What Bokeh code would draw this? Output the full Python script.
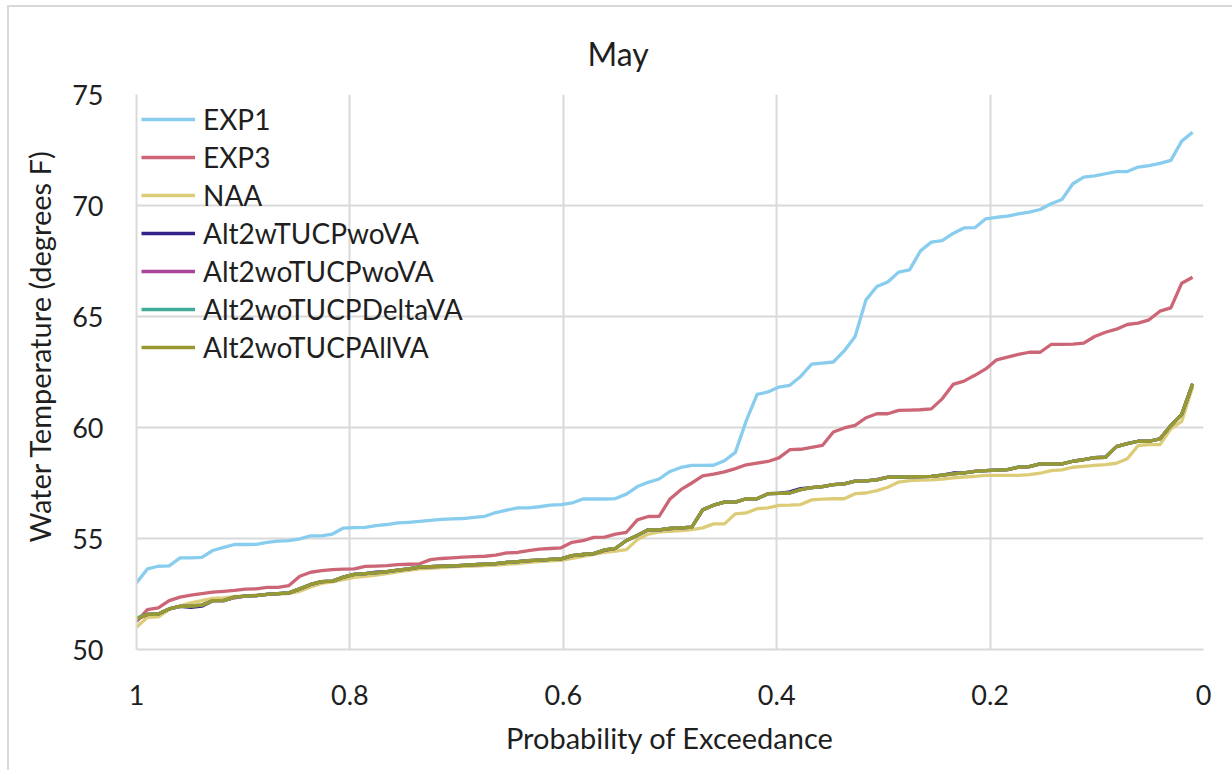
from bokeh.embed import file_html
from bokeh.models import CustomJSTickFormatter, FixedTicker, Range1d, Title
from bokeh.plotting import figure
from bokeh.resources import INLINE

# Sorted May water temperatures (degrees F), highest exceedance probability first
exp1 = [
    53.0, 53.63, 53.75, 53.77, 54.13, 54.13, 54.15, 54.46, 54.6, 54.73,
    54.73, 54.74, 54.83, 54.88, 54.9, 54.98, 55.12, 55.12, 55.2, 55.47,
    55.49, 55.5, 55.58, 55.63, 55.7, 55.73, 55.77, 55.82, 55.86, 55.88,
    55.9, 55.95, 56.0, 56.17, 56.28, 56.38, 56.38, 56.43, 56.5, 56.53,
    56.6, 56.78, 56.78, 56.78, 56.8, 57.0, 57.34, 57.53, 57.68, 58.02,
    58.2, 58.29, 58.29, 58.3, 58.5, 58.88, 60.3, 61.49, 61.6, 61.82,
    61.9, 62.3, 62.85, 62.9, 62.95, 63.45, 64.1, 65.75, 66.35, 66.55,
    67.0, 67.1, 67.95, 68.35, 68.42, 68.74, 68.99, 69.0, 69.4, 69.47,
    69.52, 69.62, 69.7, 69.82, 70.08, 70.27, 70.98, 71.28, 71.33, 71.43,
    71.53, 71.53, 71.73, 71.8, 71.9, 72.03, 72.9, 73.3,
]
exp3 = [
    51.25, 51.8, 51.87, 52.2, 52.36, 52.45, 52.52, 52.58, 52.62, 52.66,
    52.72, 52.73, 52.8, 52.8, 52.88, 53.3, 53.48, 53.55, 53.6, 53.62,
    53.63, 53.74, 53.76, 53.78, 53.82, 53.84, 53.86, 54.05, 54.1, 54.13,
    54.16, 54.18, 54.2, 54.25, 54.35, 54.37, 54.45, 54.52, 54.55, 54.58,
    54.83, 54.9, 55.05, 55.06, 55.2, 55.28, 55.84, 55.99, 56.0, 56.78,
    57.2, 57.5, 57.82, 57.9, 58.0, 58.15, 58.32, 58.4, 58.47, 58.63,
    59.0, 59.02, 59.11, 59.19, 59.8, 59.98, 60.1, 60.44, 60.62, 60.62,
    60.77, 60.78, 60.8, 60.84, 61.29, 61.94, 62.09, 62.35, 62.64, 63.05,
    63.17, 63.29, 63.39, 63.39, 63.74, 63.74, 63.76, 63.8, 64.1, 64.29,
    64.43, 64.64, 64.7, 64.85, 65.24, 65.39, 66.5, 66.77,
]
naa = [
    51.0, 51.45, 51.47, 51.8, 51.97, 52.1, 52.2, 52.3, 52.32, 52.38,
    52.42, 52.45, 52.48, 52.5, 52.52, 52.62, 52.82, 52.98, 53.05, 53.15,
    53.25, 53.3, 53.35, 53.42, 53.5, 53.56, 53.63, 53.66, 53.69, 53.72,
    53.74, 53.76, 53.78, 53.8, 53.84, 53.87, 53.92, 53.96, 53.99, 54.02,
    54.1, 54.2, 54.28, 54.38, 54.43, 54.5, 54.95, 55.2, 55.3, 55.32,
    55.36, 55.4, 55.48, 55.66, 55.66, 56.11, 56.15, 56.34, 56.38, 56.49,
    56.5, 56.53, 56.74, 56.77, 56.79, 56.79, 57.02, 57.05, 57.16, 57.31,
    57.54, 57.61, 57.63, 57.64, 57.68, 57.73, 57.77, 57.8, 57.84, 57.84,
    57.84, 57.84, 57.88, 57.94, 58.06, 58.09, 58.21, 58.25, 58.29, 58.33,
    58.39, 58.59, 59.19, 59.23, 59.23, 59.94, 60.28, 61.82,
]
alt2_w_tucp_wo_va = [
    51.38, 51.58, 51.6, 51.83, 51.94, 51.9, 51.95, 52.2, 52.2, 52.36,
    52.4, 52.43, 52.48, 52.52, 52.55, 52.73, 52.93, 53.06, 53.08, 53.26,
    53.38, 53.42, 53.48, 53.51, 53.58, 53.63, 53.71, 53.73, 53.75, 53.77,
    53.79, 53.82, 53.84, 53.87, 53.92, 53.96, 54.0, 54.03, 54.06, 54.08,
    54.23, 54.28, 54.32, 54.49, 54.56, 54.91, 55.14, 55.39, 55.39, 55.45,
    55.48, 55.51, 56.29, 56.5, 56.64, 56.64, 56.79, 56.79, 57.02, 57.03,
    57.1, 57.25, 57.29, 57.34, 57.43, 57.46, 57.58, 57.6, 57.64, 57.76,
    57.77, 57.78, 57.79, 57.8, 57.85, 57.95, 57.96, 58.02, 58.06, 58.08,
    58.1, 58.21, 58.24, 58.36, 58.36, 58.36, 58.48, 58.55, 58.64, 58.66,
    59.14, 59.27, 59.38, 59.38, 59.49, 60.09, 60.59, 61.97,
]
alt2_wo_tucp_wo_va = [
    51.38, 51.58, 51.6, 51.83, 51.94, 51.96, 52.0, 52.2, 52.2, 52.33,
    52.4, 52.43, 52.48, 52.52, 52.55, 52.73, 52.93, 53.06, 53.08, 53.26,
    53.38, 53.42, 53.45, 53.51, 53.58, 53.63, 53.71, 53.73, 53.75, 53.77,
    53.79, 53.82, 53.84, 53.87, 53.92, 53.96, 54.0, 54.03, 54.06, 54.08,
    54.23, 54.28, 54.32, 54.46, 54.56, 54.91, 55.14, 55.39, 55.39, 55.45,
    55.48, 55.51, 56.29, 56.5, 56.64, 56.64, 56.79, 56.79, 57.02, 57.03,
    57.05, 57.2, 57.29, 57.34, 57.43, 57.46, 57.58, 57.6, 57.66, 57.76,
    57.77, 57.78, 57.79, 57.8, 57.85, 57.91, 57.96, 58.02, 58.06, 58.08,
    58.1, 58.21, 58.24, 58.36, 58.36, 58.36, 58.48, 58.55, 58.64, 58.66,
    59.14, 59.27, 59.38, 59.38, 59.49, 60.09, 60.59, 61.97,
]
alt2_wo_tucp_delta_va = [
    51.42, 51.58, 51.6, 51.83, 51.94, 51.96, 52.0, 52.2, 52.2, 52.36,
    52.4, 52.43, 52.48, 52.52, 52.55, 52.73, 52.93, 53.06, 53.08, 53.26,
    53.38, 53.42, 53.45, 53.51, 53.58, 53.63, 53.73, 53.73, 53.75, 53.77,
    53.79, 53.82, 53.84, 53.87, 53.92, 53.96, 54.0, 54.03, 54.06, 54.08,
    54.23, 54.28, 54.32, 54.49, 54.56, 54.91, 55.14, 55.39, 55.39, 55.45,
    55.48, 55.51, 56.29, 56.5, 56.64, 56.64, 56.79, 56.79, 57.02, 57.03,
    57.05, 57.2, 57.29, 57.34, 57.43, 57.46, 57.58, 57.6, 57.64, 57.76,
    57.77, 57.78, 57.79, 57.8, 57.85, 57.91, 57.96, 58.02, 58.06, 58.08,
    58.1, 58.23, 58.24, 58.36, 58.36, 58.36, 58.48, 58.55, 58.64, 58.66,
    59.14, 59.27, 59.38, 59.38, 59.49, 60.09, 60.59, 61.97,
]
alt2_wo_tucp_all_va = [
    51.38, 51.58, 51.6, 51.83, 51.94, 51.96, 52.0, 52.2, 52.2, 52.36,
    52.4, 52.43, 52.48, 52.52, 52.55, 52.73, 52.93, 53.06, 53.08, 53.26,
    53.38, 53.42, 53.45, 53.51, 53.58, 53.63, 53.71, 53.73, 53.75, 53.77,
    53.79, 53.82, 53.84, 53.87, 53.92, 53.96, 54.0, 54.03, 54.06, 54.08,
    54.23, 54.28, 54.32, 54.49, 54.56, 54.91, 55.14, 55.39, 55.39, 55.45,
    55.48, 55.51, 56.29, 56.5, 56.64, 56.64, 56.79, 56.79, 57.02, 57.03,
    57.05, 57.2, 57.29, 57.34, 57.43, 57.46, 57.58, 57.6, 57.64, 57.76,
    57.77, 57.78, 57.79, 57.8, 57.85, 57.91, 57.96, 58.02, 58.06, 58.08,
    58.1, 58.21, 58.24, 58.36, 58.36, 58.36, 58.48, 58.55, 58.64, 58.66,
    59.14, 59.27, 59.38, 59.38, 59.49, 60.09, 60.59, 61.97,
]

series_names = [
    "EXP1", "EXP3", "NAA", "Alt2wTUCPwoVA",
    "Alt2woTUCPwoVA", "Alt2woTUCPDeltaVA", "Alt2woTUCPAllVA",
]
series_values = [
    exp1, exp3, naa, alt2_w_tucp_wo_va,
    alt2_wo_tucp_wo_va, alt2_wo_tucp_delta_va, alt2_wo_tucp_all_va,
]
series_colors = [
    "#88CCEE", "#CC6677", "#DDCC77", "#332288",
    "#AA4499", "#44AA99", "#999933",
]

x_ticks = [0, 0.2, 0.4, 0.6, 0.8, 1]
y_ticks = [50, 55, 60, 65, 70, 75]

# Exceedance probability of each ranked value
n = len(exp1)
prob = [(n - i) / n for i in range(n)]

FONT = "Lato"
TEXT = "#1f1f1f"
GRID = "#d9d9d9"

p = figure(
    width=1232, height=770,
    x_range=Range1d(1, 0), y_range=Range1d(50, 75),
    output_backend="svg", toolbar_location=None,
    min_border_left=136, min_border_right=29,
    min_border_top=94, min_border_bottom=121,
    background_fill_color="white", border_fill_alpha=0,
)
p.outline_line_color = None

# Chart-area border along the top and left edges, drawn behind the canvas
p.styles = {
    "background-color": "white",
    "background-image": (
        f"linear-gradient({GRID}, {GRID}), linear-gradient({GRID}, {GRID})"
    ),
    "background-size": "100% 2px, 2px 100%",
    "background-position": "7px 5px, 7px 5px",
    "background-repeat": "no-repeat",
}

# Chart title, left-aligned with an offset so it sits over the whole chart
p.title.text = "May"
p.title.text_font = FONT
p.title.text_font_size = "32px"
p.title.text_font_style = "normal"
p.title.text_color = TEXT
p.title.align = "left"
p.title.offset = 451
p.title.standoff = 43

for ax in (p.xaxis[0], p.yaxis[0]):
    ax.axis_line_color = GRID
    ax.axis_line_width = 2
    ax.major_tick_line_color = None
    ax.minor_tick_line_color = None
    ax.major_label_text_font = FONT
    ax.major_label_text_font_size = "27px"
    ax.major_label_text_color = TEXT

p.xaxis.ticker = FixedTicker(ticks=x_ticks)
p.xaxis.formatter = CustomJSTickFormatter(code="return tick.toString();")
p.xaxis.major_label_standoff = 29
p.xaxis.axis_label = "Probability of Exceedance"
p.xaxis.axis_label_text_font = FONT
p.xaxis.axis_label_text_font_size = "29px"
p.xaxis.axis_label_text_font_style = "normal"
p.xaxis.axis_label_text_color = TEXT
p.xaxis.axis_label_standoff = 12

p.yaxis.ticker = FixedTicker(ticks=y_ticks)
p.yaxis.major_label_standoff = 27

# Vertical axis title placed beside the tick labels
y_title = Title(
    text="Water Temperature (degrees F)", align="left", offset=107,
    text_font=FONT, text_font_size="29px", text_font_style="normal",
    text_color=TEXT, standoff=25,
)
p.add_layout(y_title, "left")

for g in (p.xgrid[0], p.ygrid[0]):
    g.grid_line_color = GRID
    g.grid_line_width = 2

for name, vals, color in zip(series_names, series_values, series_colors):
    p.line(prob, vals, line_color=color, line_width=3.3, line_join="round",
           legend_label=name)

leg = p.legend[0]
leg.location = (5, 283)
leg.border_line_color = None
leg.background_fill_alpha = 0
leg.glyph_width = 54
leg.glyph_height = 38
leg.label_height = 38
leg.label_standoff = 8
leg.spacing = 0
leg.padding = 5
leg.margin = 0
leg.label_text_font = FONT
leg.label_text_font_size = "28px"
leg.label_text_color = TEXT

open("out.html", "w").write(file_html(p, INLINE))
